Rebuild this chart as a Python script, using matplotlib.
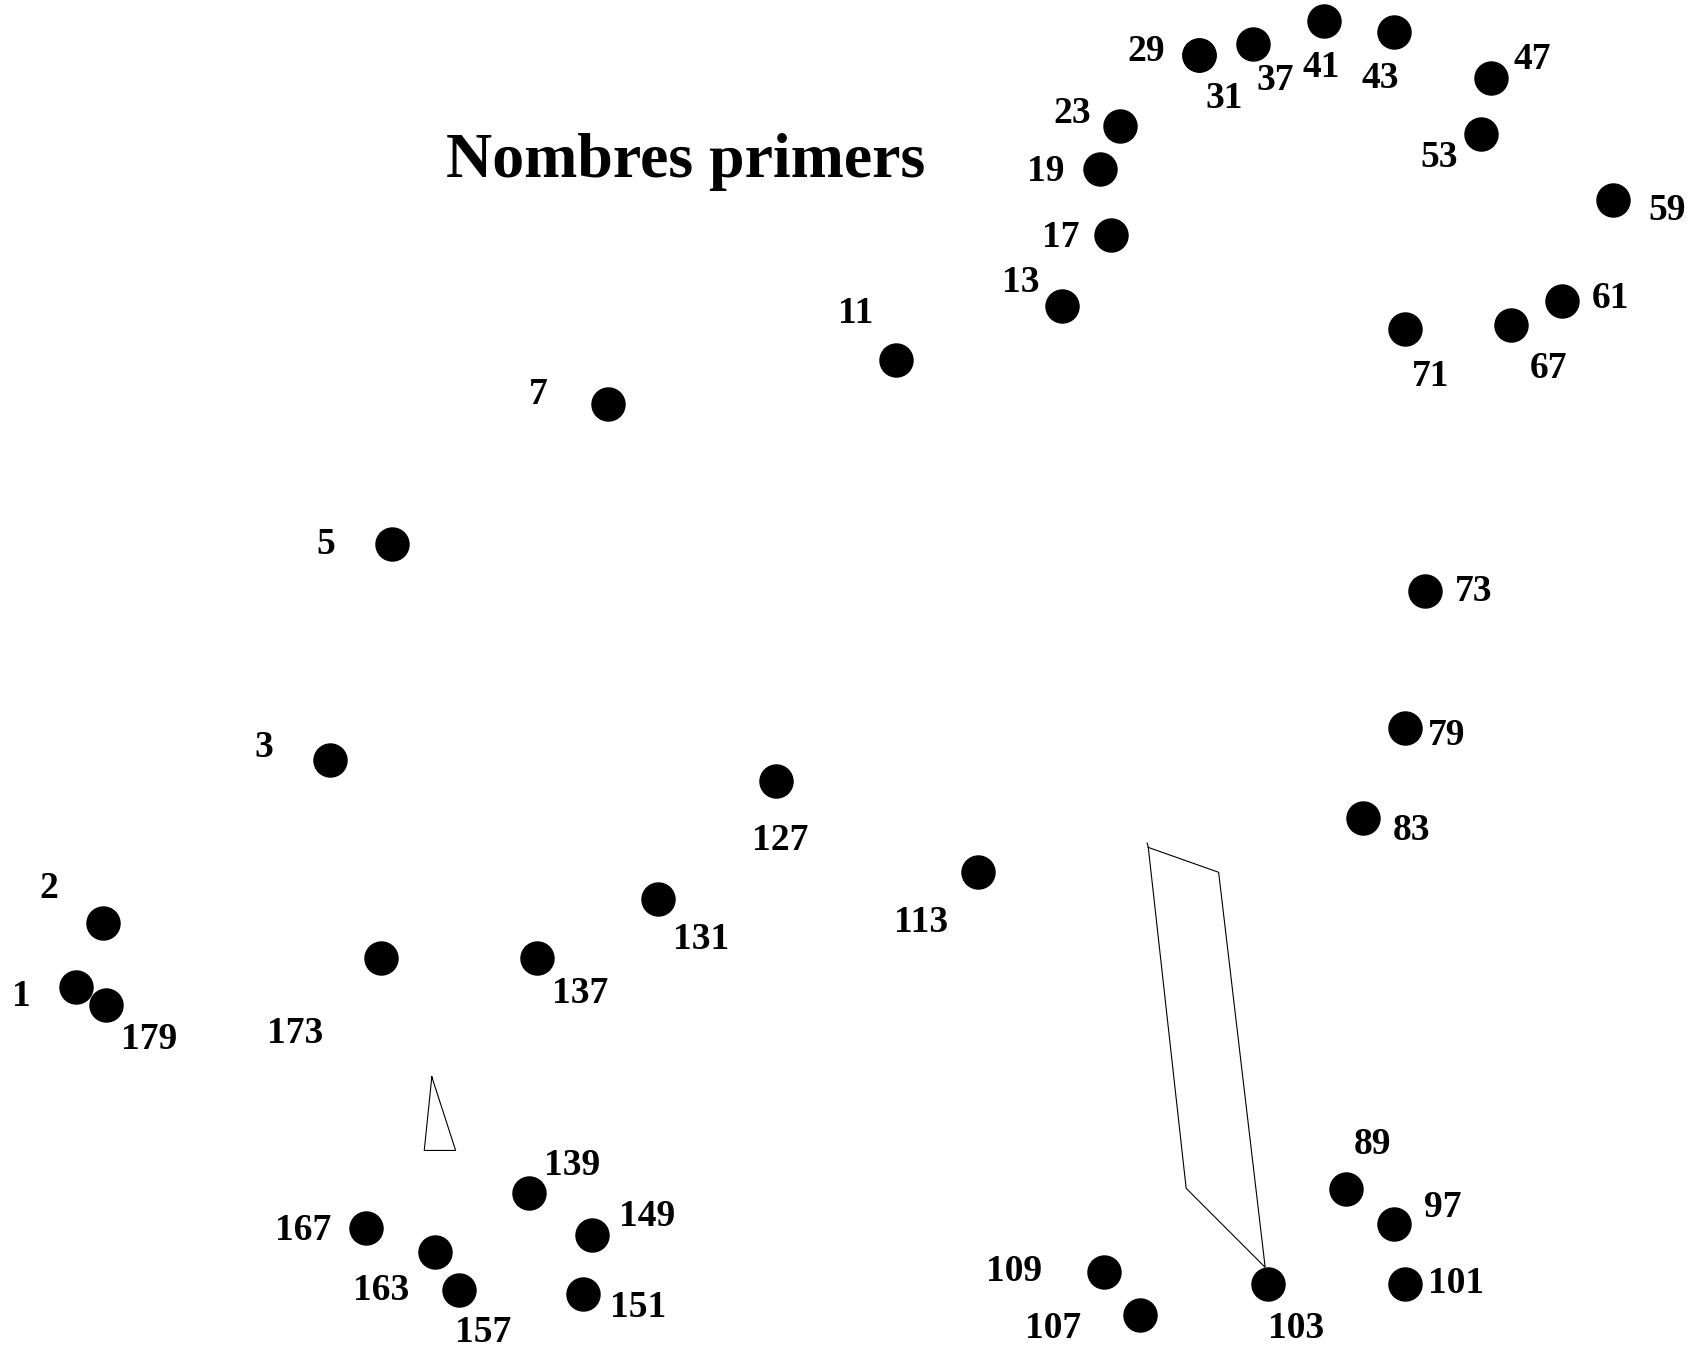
import matplotlib
matplotlib.use('Agg')
import matplotlib.pyplot as plt
from matplotlib.transforms import offset_copy

numbers = [1, 2, 3, 5, 7, 11, 13, 17, 19, 23, 29, 31, 37, 41, 43, 47, 53, 59,
           61, 67, 71, 73, 79, 83, 89, 97, 101, 103, 107, 109, 113, 127, 131,
           137, 139, 149, 151, 157, 163, 167, 173, 179]

dot_x = [70, 95, 305, 362, 562, 828, 981, 1027, 1016, 1035, 1108, 1108, 1158,
         1223, 1288, 1378, 1368, 1490, 1443, 1396, 1298, 1317, 1298, 1259,
         1244, 1288, 1298, 1172, 1053, 1020, 904, 717, 608, 496, 489, 547,
         539, 424, 402, 338, 352, 98]
dot_y = [912, 853, 702, 503, 373, 333, 283, 217, 156, 116, 51, 51, 41, 19, 30,
         72, 124, 185, 278, 300, 304, 546, 673, 756, 1099, 1131, 1186, 1186,
         1215, 1175, 806, 722, 831, 885, 1102, 1141, 1196, 1192, 1157, 1135,
         885, 929]

label_x = [20, 45, 244, 301, 497, 791, 943, 980, 966, 991, 1059, 1131, 1178,
           1221, 1275, 1416, 1330, 1540, 1488, 1431, 1322, 1362, 1337, 1304,
           1268, 1333, 1345, 1198, 973, 937, 851, 721, 648, 536, 529, 598,
           590, 446, 352, 280, 273, 138]
label_y = [918, 818, 688, 500, 362, 287, 258, 217, 156, 102, 45, 88, 72, 60,
           70, 52, 143, 192, 273, 338, 345, 544, 677, 765, 1055, 1113, 1183,
           1225, 1225, 1172, 850, 774, 865, 915, 1074, 1121, 1205, 1228, 1190,
           1134, 952, 958]

# stray outlines left in the picture
quad_x = [1060, 1061, 1126, 1169, 1096, 1061]
quad_y = [779, 783, 806, 1171, 1098, 783]
tri_x = [399, 392, 421, 399]
tri_y = [995, 1063, 1063, 995]

fig = plt.figure(figsize=(16.97, 13.5), dpi=100)
ax = fig.add_axes([0, 0, 1, 1])
ax.set_xlim(0, 1568)
ax.set_ylim(1247.4, 0)
ax.axis('off')

ax.plot(quad_x, quad_y, color='black', lw=0.8)
ax.plot(tri_x, tri_y, color='black', lw=0.8)

ax.plot(dot_x, dot_y, 'o', color='black', markersize=23.8, linestyle='none')

# text boxes sit a little high, nudge them down
lbl_tr = offset_copy(ax.transData, fig=fig, x=0, y=-3, units='dots')
for n, x, y in zip(numbers, label_x, label_y):
    ax.text(x, y, str(n), ha='center', va='center', fontsize=27,
            fontweight='bold', family='Liberation Serif', transform=lbl_tr)

title_tr = offset_copy(ax.transData, fig=fig, x=2, y=-5, units='dots')
ax.text(632, 145, 'Nombres primers', ha='center', va='center', fontsize=46,
        fontweight='bold', family='Liberation Serif', transform=title_tr)

fig.savefig('out.png', dpi=100)
